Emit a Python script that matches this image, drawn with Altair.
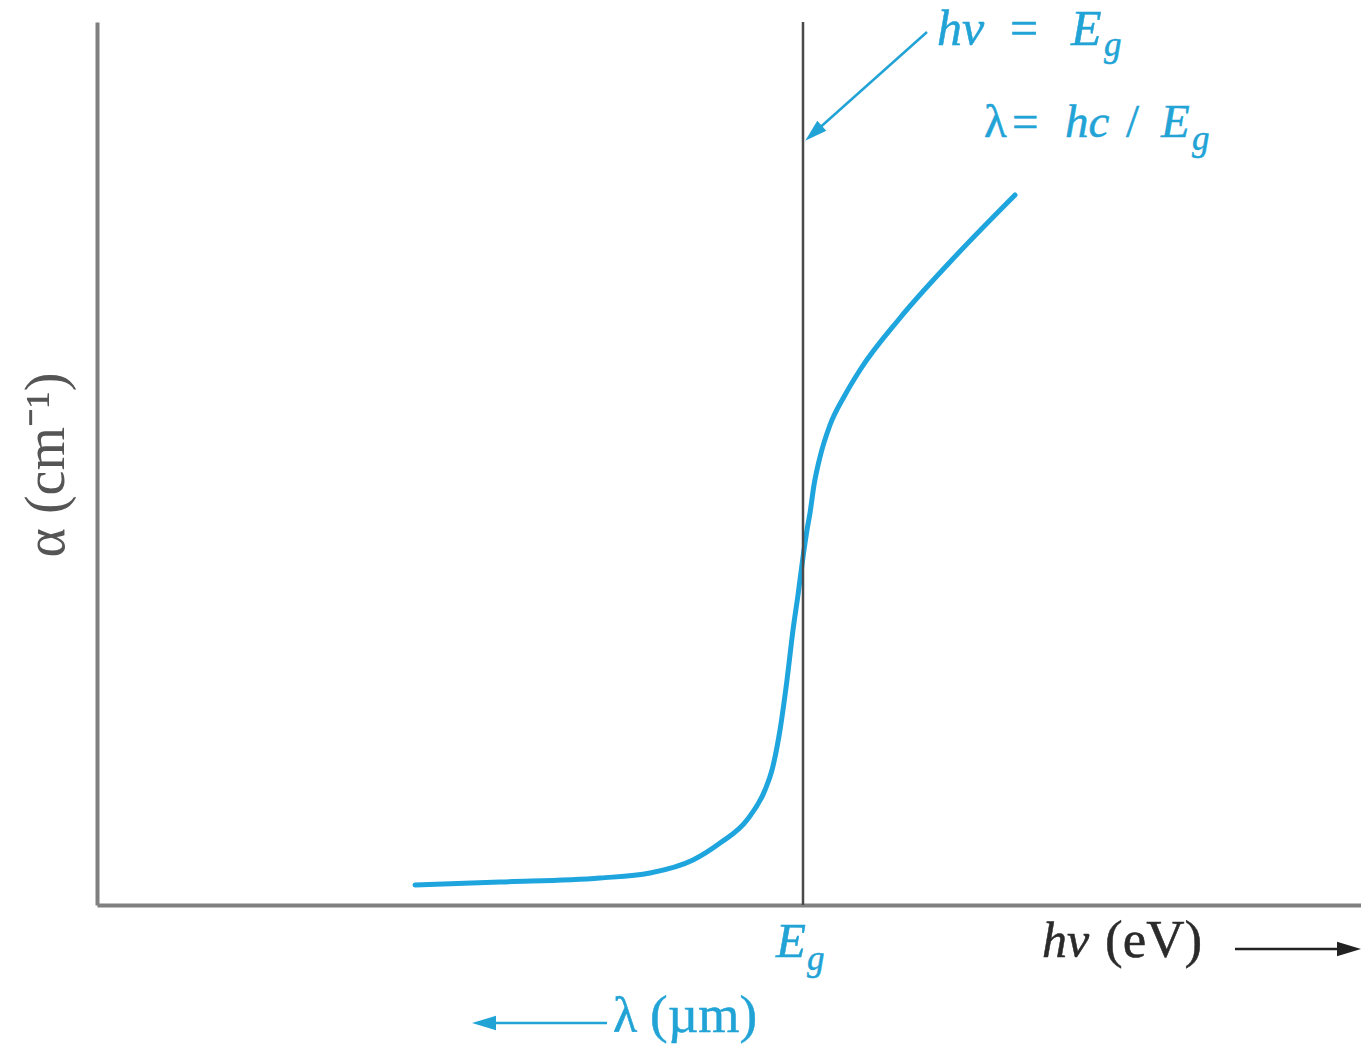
import altair as alt
import pandas as pd

# ---- data (arbitrary units) ----
hv = [3.18, 4.03, 5.03, 5.53, 5.96, 6.23, 6.50, 6.68, 6.75, 6.83, 6.90, 6.96,
      7.01, 7.06, 7.10, 7.13, 7.17, 7.23, 7.33, 7.48, 7.63, 8.03, 8.53, 9.18]
alpha = [0.20, 0.23, 0.27, 0.32, 0.45, 0.62, 0.85, 1.15, 1.35, 1.75, 2.25, 2.75,
         3.10, 3.48, 3.75, 3.92, 4.20, 4.48, 4.80, 5.10, 5.35, 5.87, 6.43, 7.10]
eg = 7.06
x_max = 12.64
y_max = 8.83

# text labels
lab_text = ["hν", "=", "E", "g",
            "λ", "=", "hc", "/", "E", "g",
            "E", "g",
            "hν", "(eV)",
            "λ", "(µm)"]
lab_x = [8.40, 9.13, 9.74, 10.07,
         8.87, 9.15, 9.68, 10.29, 10.64, 10.95,
         6.79, 7.10,
         9.45, 10.08,
         5.16, 5.53]
lab_y = [8.60, 8.60, 8.60, 8.49,
         7.68, 7.68, 7.68, 7.68, 7.68, 7.55,
         -0.52, -0.65,
         -0.52, -0.52,
         -1.27, -1.27]
lab_group = ["it50", "rg50", "it50", "sub",
             "rg47", "rg47", "it47", "rg47", "it47", "sub",
             "it48", "sub",
             "dit50", "drg50",
             "rg50", "rg53"]

# arrows: shaft start/end and head centre
arr_x1 = [8.30, 11.38, 5.10]
arr_y1 = [8.73, -0.44, -1.18]
arr_x2 = [7.165, 12.52, 3.87]
arr_y2 = [7.717, -0.44, -1.18]
arr_angle = [138, 0, 180]
arr_color = ["#22a3d6", "#222222", "#22a3d6"]

CYAN_LINE = "#1ea5de"
CYAN_TEXT = "#22a3d6"
DARK = "#2b2b2b"
FONT = "Liberation Serif"

xs = alt.Scale(domain=[0, x_max], nice=False, zero=False)
ys = alt.Scale(domain=[0, y_max], nice=False, zero=False)
ax = alt.Axis(domain=True, ticks=False, labels=False, grid=False, title=None,
              domainColor="#808080", domainWidth=4)


def X(f):
    return alt.X(f"{f}:Q", scale=xs, axis=ax)


def Y(f):
    return alt.Y(f"{f}:Q", scale=ys, axis=ax)


curve_df = pd.DataFrame({"x": hv, "y": alpha})
curve = alt.Chart(curve_df).mark_line(
    color=CYAN_LINE, strokeWidth=5, interpolate="monotone", strokeCap="round"
).encode(x=X("x"), y=Y("y"))

vline = alt.Chart(pd.DataFrame({"x": [eg], "y": [0], "y2": [y_max]})).mark_rule(
    color="#4a4a4a", strokeWidth=2.5
).encode(x=X("x"), y=Y("y"), y2="y2:Q")

arr_df = pd.DataFrame({"x": arr_x1, "y": arr_y1, "x2": arr_x2, "y2": arr_y2,
                       "c": arr_color, "a": arr_angle})
shafts = alt.Chart(arr_df).mark_rule(strokeWidth=2.5).encode(
    x=X("x"), y=Y("y"), x2="x2:Q", y2="y2:Q",
    color=alt.Color("c:N", scale=None)
)

heads = []
for i in range(len(arr_x1)):
    d = pd.DataFrame({"x": [arr_x2[i]], "y": [arr_y2[i]]})
    heads.append(
        alt.Chart(d).mark_point(
            shape="M-1,-0.6L1,0L-1,0.6Z", filled=True, opacity=1,
            size=500 if i == 0 else 576, angle=arr_angle[i], color=arr_color[i],
            strokeWidth=0
        ).encode(x=X("x"), y=Y("y"))
    )

lab_df = pd.DataFrame({"t": lab_text, "x": lab_x, "y": lab_y, "g": lab_group})
styles = {
    "it50": dict(fontStyle="italic", fontSize=50, color=CYAN_TEXT),
    "rg50": dict(fontStyle="normal", fontSize=50, color=CYAN_TEXT),
    "rg53": dict(fontStyle="normal", fontSize=53, color=CYAN_TEXT),
    "it47": dict(fontStyle="italic", fontSize=47, color=CYAN_TEXT),
    "rg47": dict(fontStyle="normal", fontSize=47, color=CYAN_TEXT),
    "it48": dict(fontStyle="italic", fontSize=49, color=CYAN_TEXT),
    "sub": dict(fontStyle="italic", fontSize=35, color=CYAN_TEXT),
    "dit50": dict(fontStyle="italic", fontSize=50, color=DARK),
    "drg50": dict(fontStyle="normal", fontSize=53, color=DARK),
}
texts = []
for g, st in styles.items():
    sub = lab_df[lab_df["g"] == g]
    if len(sub) == 0:
        continue
    texts.append(
        alt.Chart(sub).mark_text(font=FONT, align="left", baseline="alphabetic",
                                 stroke=st["color"], strokeWidth=0.5, **st)
        .encode(x=X("x"), y=Y("y"), text="t:N")
    )

ytitle = alt.Chart(pd.DataFrame({"x": [-0.50], "y": [4.40], "t": ["α (cm⁻¹)"]})).mark_text(
    font=FONT, fontSize=56, color="#555555", angle=270, align="center", baseline="middle"
).encode(x=X("x"), y=Y("y"), text="t:N")

chart = alt.layer(curve, vline, shafts, *heads, *texts, ytitle).properties(
    width=1264, height=883,
    autosize=alt.AutoSizeParams(type="none"),
    padding={"left": 89, "top": 14, "right": 0, "bottom": 140},
).configure_view(stroke=None)

chart.save("out.html", embed_options={"renderer": "svg", "actions": False})
